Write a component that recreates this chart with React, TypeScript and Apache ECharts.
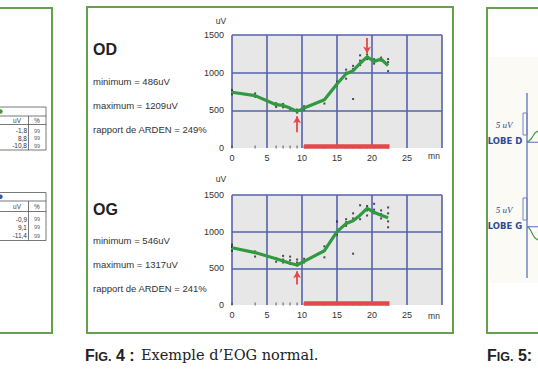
import React, { useEffect, useRef } from "react";
import * as echarts from "echarts";

// ---- data ----
const times = [0, 3.3, 6.3, 7.3, 8.3, 9.3, 10.3, 13.2, 15, 16.3, 17.3, 18.3, 19.3, 20.3, 21.3, 22.3];
const odMean = [740, 695, 575, 565, 530, 486, 530, 640, 850, 985, 1025, 1125, 1209, 1150, 1180, 1095];
const ogMean = [780, 715, 630, 600, 570, 546, 595, 740, 1000, 1110, 1150, 1225, 1317, 1265, 1225, 1190];

const odSamples: [number, number][] = [
  [0, 715], [0, 765], [3.3, 680], [3.3, 725], [6.3, 545], [6.3, 595], [7.3, 540], [7.3, 585],
  [8.3, 515], [9.3, 470], [9.3, 510], [10.3, 510], [10.3, 555], [13.2, 590], [15, 830], [15, 880],
  [16.3, 920], [16.3, 1000], [16.3, 1040], [17.3, 650], [17.3, 1050], [17.3, 1090], [18.3, 1100],
  [18.3, 1160], [18.3, 1230], [19.3, 1180], [19.3, 1240], [20.3, 1120], [20.3, 1180], [21.3, 1160],
  [21.3, 1200], [22.3, 1020], [22.3, 1140], [22.3, 1180],
];
const ogSamples: [number, number][] = [
  [0, 740], [0, 790], [0, 820], [3.3, 660], [3.3, 730], [6.3, 590], [6.3, 640], [7.3, 580], [7.3, 620],
  [7.3, 670], [8.3, 560], [8.3, 610], [8.3, 660], [9.3, 540], [9.3, 580], [9.3, 620], [10.3, 580],
  [10.3, 630], [13.2, 650], [13.2, 800], [15, 960], [15, 1140], [16.3, 1080], [16.3, 1130], [16.3, 1170],
  [17.3, 700], [17.3, 1180], [17.3, 1250], [18.3, 1170], [18.3, 1230], [18.3, 1360], [19.3, 1220],
  [19.3, 1290], [19.3, 1350], [20.3, 1250], [20.3, 1300], [20.3, 1380], [21.3, 1180], [21.3, 1240],
  [21.3, 1290], [22.3, 1060], [22.3, 1140], [22.3, 1250], [22.3, 1330],
];

// arrows: [time, tail value, head value]
const odMinArrow = [9.3, 210, 420];
const odMaxArrow = [19.3, 1460, 1255];
const ogMinArrow = [9.3, 280, 460];
const ogMaxArrow = [19.3, 1560, 1375];
// light stimulation period
const lightOn = [10.3, 22.5];

const yTicks = [0, 500, 1000, 1500];
const xTicks = [0, 5, 10, 15, 20, 25, 30];

const odLabels = ["OD", "minimum = 486uV", "maximum = 1209uV", "rapport de ARDEN = 249%"];
const ogLabels = ["OG", "minimum = 546uV", "maximum = 1317uV", "rapport de ARDEN = 241%"];

const table1 = ["-1,8", "8,8", "-10,8"];
const table2 = ["-0,9", "9,1", "-11,4"];
const tablePct = ["99", "99", "99"];

// ---- styles ----
const BLUE = "#5763a9";
const GREEN = "#2f9a40";
const RED = "#e5484b";
const FRAME = "#66a04c";
const SANS = "'Liberation Sans', Arial, sans-serif";

export default function App() {
  const ref = useRef<HTMLDivElement>(null);
  useEffect(() => {
    if (!ref.current) return;
    const chart = echarts.init(ref.current, undefined, { renderer: "svg" });

    const grids = [
      { left: 232, top: 35, width: 210, height: 113 },
      { left: 232, top: 195, width: 210, height: 110 },
    ];

    const xAxes = grids.map((_, i) => ({
      type: "value",
      gridIndex: i,
      min: xTicks[0],
      max: xTicks[xTicks.length - 1],
      interval: 5,
      axisLine: { show: false },
      axisTick: { show: false },
      axisLabel: {
        margin: 5,
        fontSize: 9,
        color: "#333",
        fontFamily: SANS,
        formatter: (v: number) => (v === 30 ? "" : String(v)),
      },
      splitLine: { show: true, lineStyle: { color: BLUE, width: 1.6 } },
    }));

    const yAxes = grids.map((_, i) => ({
      type: "value",
      gridIndex: i,
      min: yTicks[0],
      max: yTicks[yTicks.length - 1],
      interval: 500,
      axisLine: { show: false },
      axisTick: { show: false },
      axisLabel: {
        margin: 8,
        fontSize: 9,
        color: "#333",
        fontFamily: SANS,
        formatter: (v: number) => String(v),
      },
      splitLine: {
        show: true,
        lineStyle: { color: ["rgba(0,0,0,0)", BLUE, BLUE, BLUE], width: 1.6 },
      },
    }));

    const makeSeries = (
      idx: number,
      mean: number[],
      samples: [number, number][],
      minA: number[],
      maxA: number[]
    ) => [
      {
        type: "scatter",
        xAxisIndex: idx,
        yAxisIndex: idx,
        data: samples,
        symbol: "rect",
        symbolSize: 2,
        itemStyle: { color: "#222" },
        silent: true,
        z: 3,
      },
      {
        type: "scatter",
        xAxisIndex: idx,
        yAxisIndex: idx,
        data: times.map((t) => [t, 0]),
        symbol: "rect",
        symbolSize: [1, 3],
        symbolOffset: [0, -1],
        itemStyle: { color: "#333" },
        silent: true,
        z: 3,
      },
      {
        type: "line",
        xAxisIndex: idx,
        yAxisIndex: idx,
        data: times.map((t, k) => [t, mean[k]]),
        symbol: "none",
        lineStyle: { color: GREEN, width: 3.2 },
        z: 4,
        markLine: {
          silent: true,
          animation: false,
          label: { show: false },
          data: [
            [
              { coord: [lightOn[0], 25], symbol: "none" },
              { coord: [lightOn[1], 25], symbol: "none", lineStyle: { color: RED, width: 4.5, type: "solid" } },
            ],
            [
              { coord: [minA[0], minA[1]], symbol: "none" },
              { coord: [minA[0], minA[2]], symbol: "arrow", symbolSize: [6, 7], lineStyle: { color: RED, width: 1.8, type: "solid" } },
            ],
            [
              { coord: [maxA[0], maxA[1]], symbol: "none" },
              { coord: [maxA[0], maxA[2]], symbol: "arrow", symbolSize: [6, 7], lineStyle: { color: RED, width: 1.8, type: "solid" } },
            ],
          ],
          lineStyle: { color: RED, type: "solid" },
        },
      },
    ];

    const text = (x: number, y: number, t: string, font: string, fill = "#333", align = "left") => ({
      type: "text",
      x,
      y,
      silent: true,
      style: { text: t, font, fill, align, verticalAlign: "middle" },
    });
    const line = (x1: number, y1: number, x2: number, y2: number, stroke: string, lw = 1) => ({
      type: "line",
      silent: true,
      shape: { x1, y1, x2, y2 },
      style: { stroke, lineWidth: lw },
    });
    const frame = (x: number, y: number, w: number, h: number) => ({
      type: "rect",
      silent: true,
      shape: { x, y, width: w, height: h },
      style: { fill: "none", stroke: FRAME, lineWidth: 2 },
    });

    const labelBlock = (labels: string[], ys: number[]) => [
      text(93, ys[0], labels[0], `bold 16px ${SANS}`, "#222"),
      text(93, ys[1], labels[1], `9.5px ${SANS}`),
      text(93, ys[2], labels[2], `9.5px ${SANS}`),
      text(93, ys[3], labels[3], `9.5px ${SANS}`),
    ];

    const tableBlock = (top: number, vals: string[], dot: string, rowYs: number[], bottom: number, h1: number, h2: number) => [
      line(-2, top, 46, top, "#555", 0.8),
      line(-2, h1, 46, h1, "#555", 0.8),
      line(-2, h2, 46, h2, "#555", 0.8),
      line(-2, bottom, 46, bottom, "#555", 0.8),
      line(46, top, 46, bottom, "#555", 0.8),
      line(28.5, h1, 28.5, bottom, "#555", 0.8),
      { type: "circle", silent: true, shape: { cx: 0.5, cy: (top + h1) / 2, r: 2.2 }, style: { fill: dot } },
      text(17, (h1 + h2) / 2 + 0.5, "uV", `6.5px ${SANS}`, "#444", "center"),
      text(37, (h1 + h2) / 2 + 0.5, "%", `6.5px ${SANS}`, "#444", "center"),
      ...vals.map((v, k) => text(27, rowYs[k], v, `6.5px ${SANS}`, "#333", "right")),
      ...tablePct.map((v, k) => text(37, rowYs[k], v, `5.5px ${SANS}`, "#666", "center")),
    ];

    const figLabel = (x: number, num: string) => ({
      type: "text",
      x,
      y: 355,
      silent: true,
      style: {
        text: `{a|F}{b|IG.}{a| ${num}}`,
        verticalAlign: "middle",
        rich: {
          a: { fontSize: 16, fontWeight: "bold", fontFamily: SANS, fill: "#222", verticalAlign: "bottom" },
          b: { fontSize: 12.5, fontWeight: "bold", fontFamily: SANS, fill: "#222", verticalAlign: "bottom" },
        },
      },
    });

    const graphic: any[] = [
      // panels
      frame(-10, 8, 62, 325),
      frame(87, 7, 366, 326),
      { type: "rect", silent: true, shape: { x: 489, y: 57, width: 60, height: 226 }, style: { fill: "#fbfaf4" } },
      frame(487, 8, 80, 325),
      // left tables
      ...tableBlock(107, table1, "#3f9a3a", [130.5, 138, 145.8], 150, 116, 124.5),
      ...tableBlock(192.5, table2, "#3355aa", [219, 227.3, 235.5], 240.5, 201, 211.5),
      // middle panel texts
      ...labelBlock(odLabels, [49, 81, 105, 129]),
      ...labelBlock(ogLabels, [209, 240, 264, 288]),
      text(221, 21, "uV", `8.5px ${SANS}`, "#333", "center"),
      text(221, 179, "uV", `8.5px ${SANS}`, "#333", "center"),
      text(434, 156, "mn", `8.5px ${SANS}`, "#333", "center"),
      text(434, 316, "mn", `8.5px ${SANS}`, "#333", "center"),
      // right panel
      line(527, 93, 527, 278, "#7084c4", 1.5),
      { type: "rect", silent: true, shape: { x: 523, y: 113, width: 4, height: 22 }, style: { fill: "none", stroke: "#7084c4", lineWidth: 1 } },
      { type: "rect", silent: true, shape: { x: 523, y: 198, width: 4, height: 22 }, style: { fill: "none", stroke: "#7084c4", lineWidth: 1 } },
      line(527, 142.3, 540, 142.3, "#7084c4", 1.2),
      line(527, 226.7, 540, 226.7, "#7084c4", 1.2),
      { type: "polyline", silent: true, shape: { points: [[527, 142], [529, 141], [531, 139], [533, 136], [535, 133], [538, 131]] }, style: { fill: "none", stroke: "#3a9a45", lineWidth: 1.2 } },
      { type: "polyline", silent: true, shape: { points: [[527, 227], [529, 228], [531, 231], [533, 235], [535, 238], [538, 240]] }, style: { fill: "none", stroke: "#3a9a45", lineWidth: 1.2 } },
      text(504, 125, "5 uV", `italic 9px 'Liberation Serif', serif`, "#2c4b9c", "center"),
      text(505, 141, "LOBE D", `bold 8.5px 'DejaVu Sans', sans-serif`, "#2c4b9c", "center"),
      text(504, 210, "5 uV", `italic 9px 'Liberation Serif', serif`, "#2c4b9c", "center"),
      text(505, 226, "LOBE G", `bold 8.5px 'DejaVu Sans', sans-serif`, "#2c4b9c", "center"),
      // captions
      figLabel(85, "4 :"),
      text(141, 355, "Exemple d’EOG normal.", `14.5px 'DejaVu Serif', serif`, "#222"),
      figLabel(487, "5:"),
    ];

    chart.setOption({
      animation: false,
      backgroundColor: "#ffffff",
      grid: grids.map((g) => ({ ...g, show: true, backgroundColor: "#e7e7e7", borderWidth: 0 })),
      xAxis: xAxes,
      yAxis: yAxes,
      series: [
        ...makeSeries(0, odMean, odSamples, odMinArrow, odMaxArrow),
        ...makeSeries(1, ogMean, ogSamples, ogMinArrow, ogMaxArrow),
      ],
      graphic,
    } as any);

    return () => chart.dispose();
  }, []);

  return (
    <div
      ref={ref}
      style={{ position: "absolute", left: 0, top: 0, width: 538, height: 384, background: "#fff" }}
    />
  );
}
